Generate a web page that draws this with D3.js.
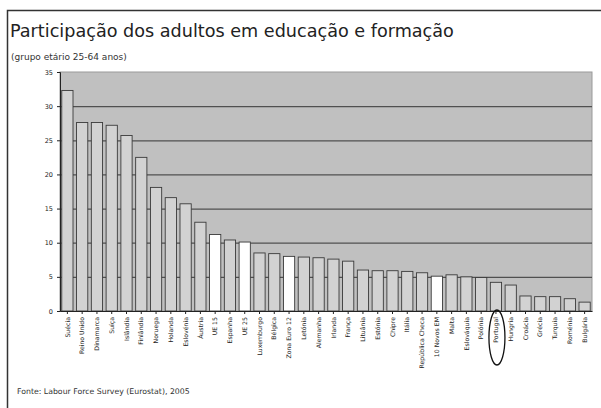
<!DOCTYPE html>
<html><head><meta charset="utf-8">
<script src="https://cdn.jsdelivr.net/npm/d3@7"></script>
<style>
html,body{margin:0;padding:0;background:#fff;}
svg{display:block;}
text{font-family:"DejaVu Sans",Verdana,sans-serif;}
</style></head>
<body><svg id="c" width="601" height="408"></svg>
<script>
const categories = ["Suécia","Reino Unido","Dinamarca","Suíça","Islândia","Finlândia","Noruega","Holanda","Eslovénia","Áustria","UE 15","Espanha","UE 25","Luxemburgo","Bélgica","Zona Euro 12","Letónia","Alemanha","Irlanda","França","Lituânia","Estónia","Chipre","Itália","República Checa","10 Novos EM","Malta","Eslováquia","Polónia","Portugal","Hungria","Croácia","Grécia","Turquia","Roménia","Bulgária"];
const values = [32.3,27.6,27.6,27.2,25.7,22.5,18.1,16.6,15.7,13.0,11.2,10.4,10.1,8.5,8.4,8.0,7.9,7.8,7.6,7.3,6.0,5.9,5.9,5.8,5.6,5.1,5.3,5.0,4.9,4.2,3.8,2.2,2.1,2.1,1.8,1.3];
const highlighted = ["UE 15","UE 25","Zona Euro 12","10 Novos EM"];
const yTicks = [0,5,10,15,20,25,30,35];
const title = "Participação dos adultos em educação e formação";
const subtitle = "(grupo etário 25-64 anos)";
const source = "Fonte: Labour Force Survey (Eurostat), 2005";
const circled = "Portugal";

const svg = d3.select("#c");
// frame
svg.append("path").attr("d","M7.5,408 V10.5 H601").attr("fill","none").attr("stroke","#333").attr("stroke-width",1.5);

const x = d3.scaleBand().domain(categories).range([60,592]).paddingInner(0.24).paddingOuter(0.12);
const y = d3.scaleLinear().domain([0,35]).range([311,72]);

// plot area
svg.append("rect").attr("x",60).attr("y",y(35)).attr("width",592-60).attr("height",y(0)-y(35))
  .attr("fill","#c0c0c0").attr("stroke","#9a9a9a").attr("stroke-width",1);

// gridlines
const grid = svg.append("g").attr("transform","translate(60,0)")
  .call(d3.axisLeft(y).tickValues(yTicks.filter(v=>v>0 && v<35)).tickSize(-(592-60)).tickFormat(""));
grid.select(".domain").remove();
grid.selectAll("line").attr("stroke","#505050").attr("stroke-width",1.2);

// bars
svg.append("g").selectAll("rect").data(categories).join("rect")
  .attr("x",d=>x(d)).attr("width",x.bandwidth())
  .attr("y",(d,i)=>y(values[i])).attr("height",(d,i)=>y(0)-y(values[i]))
  .attr("fill",d=>highlighted.includes(d)?"#ffffff":"#d2d2d2")
  .attr("stroke","#3a3a3a").attr("stroke-width",0.9);

// y axis
const ya = svg.append("g").attr("transform","translate(60,0)")
  .call(d3.axisLeft(y).tickValues(yTicks).tickSize(3).tickPadding(4));
ya.select(".domain").attr("stroke","#222");
ya.selectAll("line").attr("stroke","#222");
ya.selectAll("text").attr("font-size",6.5).attr("fill","#222");

// x axis
const xa = svg.append("g").attr("transform",`translate(0,${y(0)})`)
  .call(d3.axisBottom(x).tickSize(3).tickSizeOuter(0));
xa.select(".domain").attr("stroke","#222");
xa.selectAll("line").attr("stroke","#222");
xa.selectAll("text").attr("font-size",6.2).attr("fill","#222")
  .attr("transform","rotate(-90)").attr("text-anchor","end")
  .attr("x",-6).attr("y",0).attr("dy","0.35em");

// circle around Portugal
svg.append("ellipse").attr("cx",x(circled)+x.bandwidth()/2+1).attr("cy",337.5)
  .attr("rx",8).attr("ry",27.5).attr("fill","none").attr("stroke","#111").attr("stroke-width",1.3);

// titles
const t = svg.append("text").attr("x",10).attr("y",37).attr("font-size",16).attr("fill","#222").text(title);
const tw = t.node().getComputedTextLength();
t.attr("font-size",16*444/tw);
const st = svg.append("text").attr("x",11).attr("y",60).attr("font-size",6.5).attr("fill","#333").text(subtitle);
const sw = st.node().getComputedTextLength();
st.attr("font-size",6.5*116/sw);
const so = svg.append("text").attr("x",17).attr("y",394).attr("font-size",6.5).attr("fill","#333").text(source);
const sow = so.node().getComputedTextLength();
so.attr("font-size",6.5*173/sow);
</script></body></html>
